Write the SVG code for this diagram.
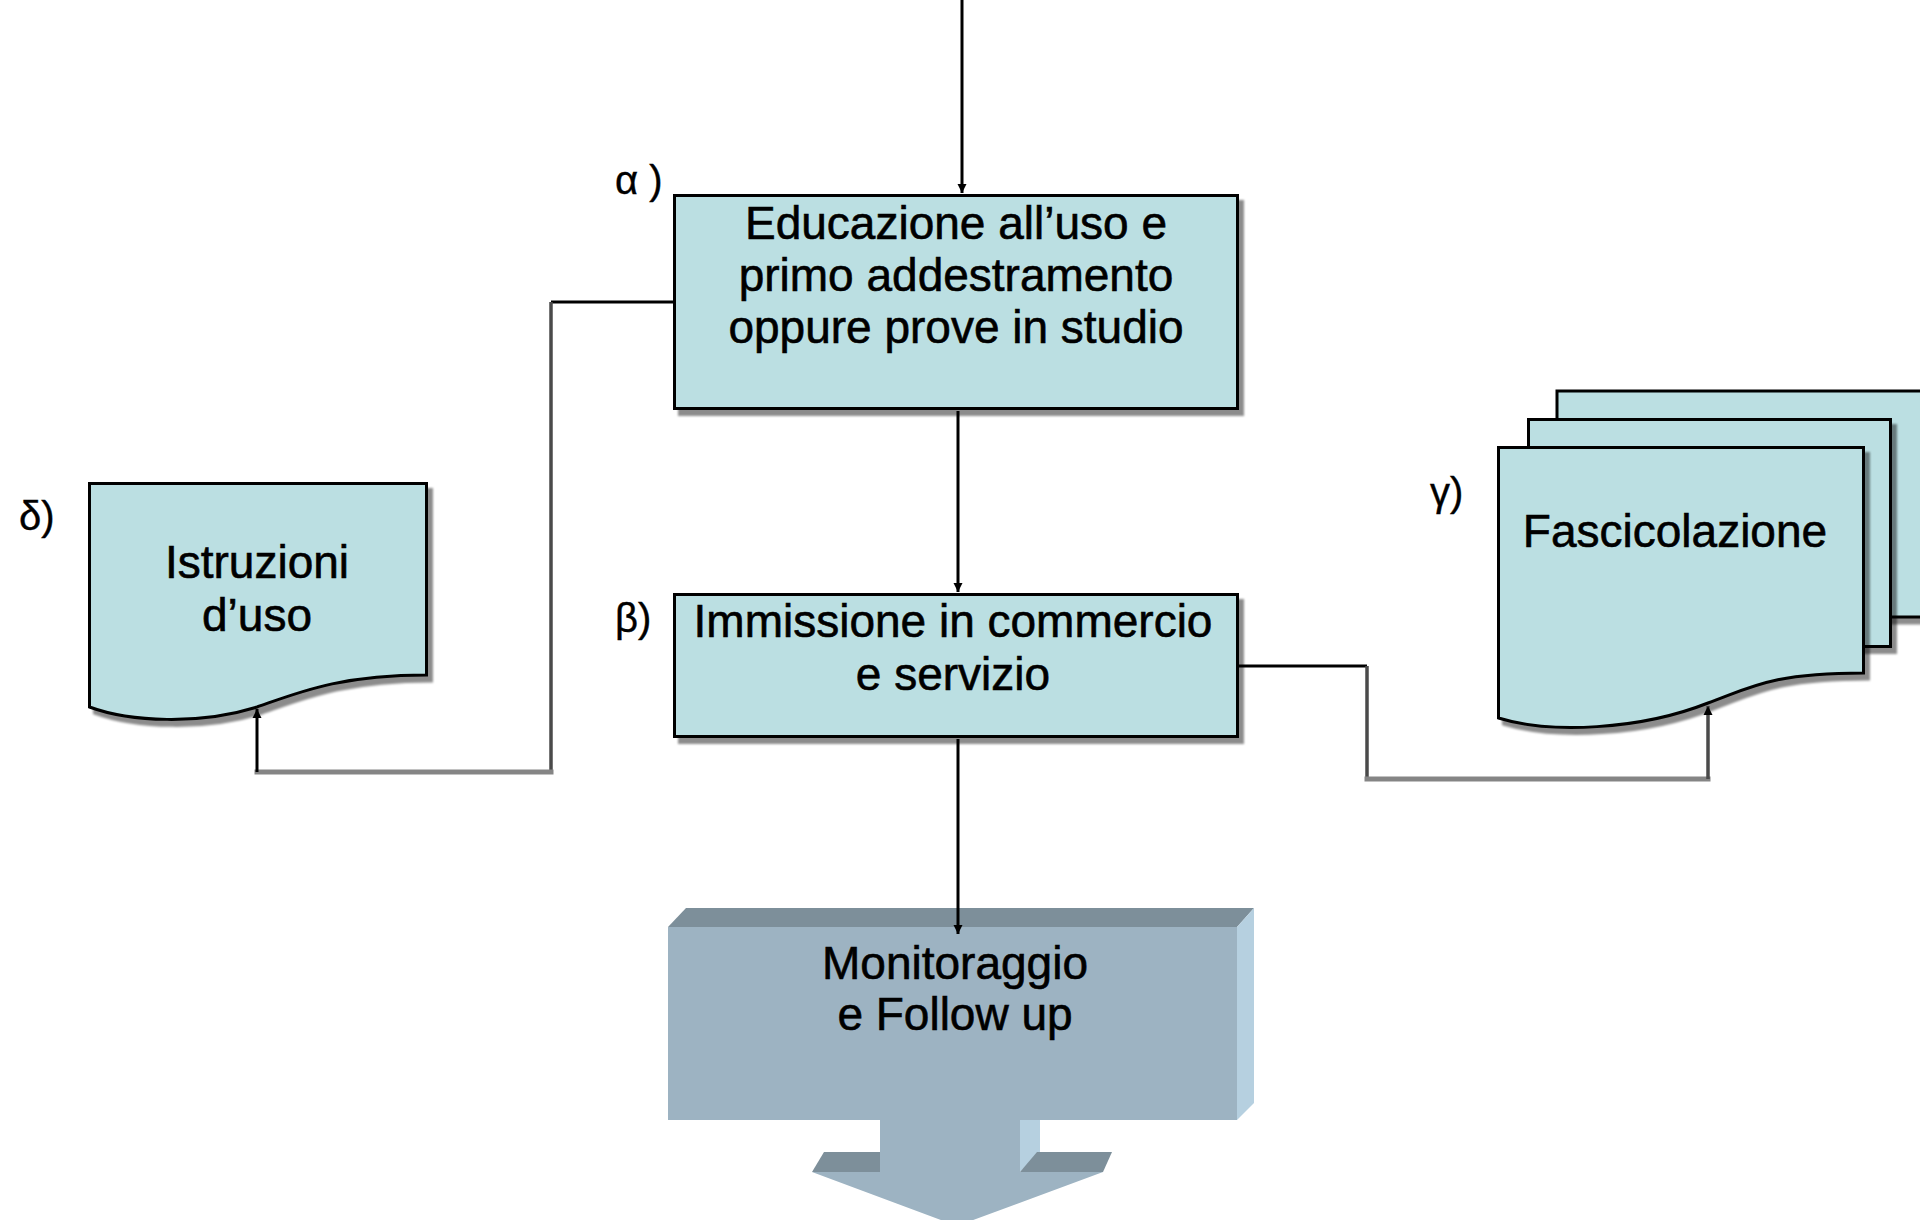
<svg xmlns="http://www.w3.org/2000/svg" width="1920" height="1220" viewBox="0 0 1920 1220">
  <style>
    .box { fill: #BBDFE2; stroke: #000; stroke-width: 3; }
    .t { font-family: "Liberation Sans", Arial, sans-serif; font-size: 46px; fill: #000; stroke: #000; stroke-width: 0.6; text-anchor: middle; }
    .lbl { font-family: "Liberation Sans", Arial, sans-serif; font-size: 40px; fill: #000; stroke: #000; stroke-width: 0.4; }
    .c { fill: none; stroke: #000; stroke-width: 3; }
    .cd { fill: none; stroke: #4a4a4a; stroke-width: 3.5; }
    .cg { fill: none; stroke: #858585; stroke-width: 5; stroke-linecap: square; }
    .front { fill: #9DB3C2; }
    .topf { fill: #7D8F9A; }
    .side { fill: #B6D0E0; }
  </style>
  <defs>
    <marker id="ah" viewBox="0 0 10 10" refX="10" refY="5" markerWidth="9" markerHeight="10" markerUnits="userSpaceOnUse" orient="auto">
      <path d="M0,0 L10,5 L0,10 z" fill="#000"/>
    </marker>
    <filter id="sh" x="-5%" y="-5%" width="115%" height="125%">
      <feOffset in="SourceAlpha" dx="5" dy="6" result="o"/>
      <feGaussianBlur in="o" stdDeviation="1.3" result="b"/>
      <feFlood flood-color="#000" flood-opacity="0.45"/>
      <feComposite in2="b" operator="in" result="s"/>
      <feMerge><feMergeNode in="s"/><feMergeNode in="SourceGraphic"/></feMerge>
    </filter>
  </defs>

  <rect x="0" y="0" width="1920" height="1220" fill="#fff"/>

  <g id="node-alpha">
    <rect class="box" x="674.5" y="195.5" width="563" height="213" filter="url(#sh)"/>
    <text class="t" x="956" y="239">Educazione all’uso e</text>
    <text class="t" x="956" y="291">primo addestramento</text>
    <text class="t" x="956" y="343">oppure prove in studio</text>
    <text class="lbl" x="615" y="194">α )</text>
  </g>

  <g id="node-beta">
    <rect class="box" x="674.5" y="594.5" width="563" height="142" filter="url(#sh)"/>
    <text class="t" x="953" y="637">Immissione in commercio</text>
    <text class="t" x="953" y="690">e servizio</text>
    <text class="lbl" x="615" y="632">β)</text>
  </g>

  <g id="node-delta">
    <path class="box" d="M89.5,483.5 H426.5 V675 C340,675 300,692 257,707 C200,725 130,722 89.5,707 Z" filter="url(#sh)"/>
    <text class="t" x="257" y="578">Istruzioni</text>
    <text class="t" x="257" y="631">d’uso</text>
    <text class="lbl" x="19" y="530">δ)</text>
  </g>

  <g id="node-gamma">
    <rect class="box" x="1557" y="391" width="368" height="226" filter="url(#sh)"/>
    <rect class="box" x="1528.5" y="419.5" width="362" height="227" filter="url(#sh)"/>
    <path class="box" d="M1498.5,447.5 H1863.5 V673 C1770,673 1750,688 1708,703 C1640,730 1550,734 1498.5,718 Z" filter="url(#sh)"/>
    <text class="t" x="1675" y="547">Fascicolazione</text>
    <text class="lbl" x="1430" y="506">γ)</text>
  </g>

  <g id="node-monitoraggio">
    <polygon class="topf" points="668,927 686,908 1254,908 1237,927"/>
    <polygon class="side" points="1237,927 1254,908 1254,1103 1237,1120"/>
    <polygon class="side" points="1020,1120 1040,1120 1040,1152 1020,1172"/>
    <polygon class="topf" points="812,1172 824,1152 880,1152 880,1172"/>
    <polygon class="topf" points="1020,1172 1037,1152 1112,1152 1103,1172"/>
    <path class="front" d="M668,927 H1237 V1120 H1020 V1172 H1103 L957,1226 L812,1172 H880 V1120 H668 Z"/>
    <text class="t" x="955" y="979">Monitoraggio</text>
    <text class="t" x="955" y="1030">e Follow up</text>
  </g>

  <g id="connectors">
    <line class="c" x1="962" y1="0" x2="962" y2="193" marker-end="url(#ah)"/>
    <line class="c" x1="958" y1="411" x2="958" y2="592" marker-end="url(#ah)"/>
    <line class="c" x1="958" y1="739" x2="958" y2="934" marker-end="url(#ah)"/>
    <path class="c" d="M673,302 H551"/>
    <path class="cd" d="M551,302 V772"/>
    <path class="cg" d="M551,772 H257"/>
    <path class="c" d="M257,772 V709" marker-end="url(#ah)"/>
    <path class="c" d="M1238,666 H1367"/>
    <path class="cd" d="M1367,666 V779"/>
    <path class="cg" d="M1367,779 H1708"/>
    <path class="cd" d="M1708,779 V706" marker-end="url(#ah)"/>
  </g>
</svg>
